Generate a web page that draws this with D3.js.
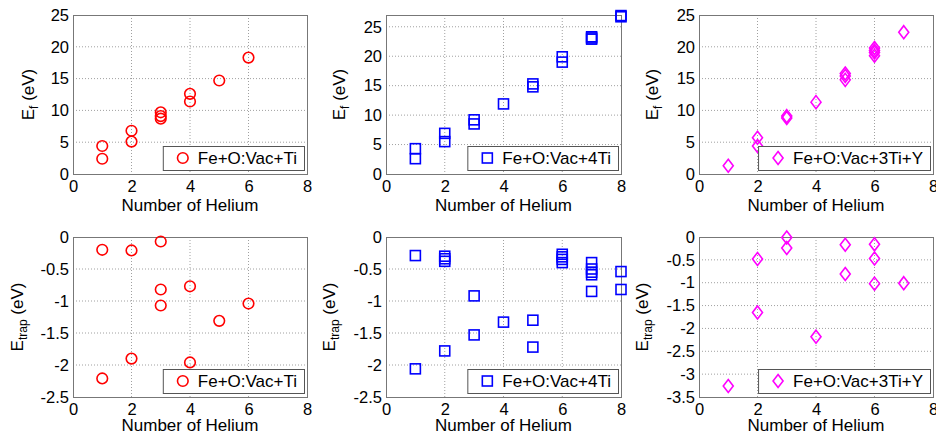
<!DOCTYPE html>
<html>
<head>
<meta charset="utf-8">
<script src="https://cdn.jsdelivr.net/npm/d3@7"></script>
<style>
  body { margin: 0; background: #fff; }
  text { font-family: "Liberation Sans", Arial, sans-serif; }
</style>
</head>
<body>
<div id="chart-area"></div>
<script>
// number of helium ticks
const xTicks = [0, 2, 4, 6, 8]

// formation energy, Fe+O:Vac+Ti
const efTiX = [1, 1, 2, 2, 3, 3, 3, 4, 4, 5, 6]
const efTiY = [4.4, 2.4, 6.8, 5.1, 9.7, 9.1, 8.7, 12.6, 11.4, 14.7, 18.3]

// formation energy, Fe+O:Vac+4Ti
const ef4TiX = [1, 1, 2, 2, 3, 3, 4, 5, 5, 6, 6, 7, 7, 7, 8, 8]
const ef4TiY = [4.3, 2.6, 6.9, 5.5, 9.2, 8.5, 11.9, 15.3, 14.8, 19.9, 19.0, 23.3, 23.1, 22.9, 26.9, 26.7]

// formation energy, Fe+O:Vac+3Ti+Y
const ef3TiYX = [1, 2, 2, 3, 3, 4, 5, 5, 5, 6, 6, 6, 6, 7]
const ef3TiYY = [1.3, 5.7, 4.4, 9.1, 8.8, 11.3, 15.8, 15.4, 14.8, 19.8, 19.4, 19.1, 18.6, 22.3]

// trapping energy, Fe+O:Vac+Ti
const etTiX = [1, 1, 2, 2, 3, 3, 3, 4, 4, 5, 6]
const etTiY = [-0.2, -2.21, -0.21, -1.9, -0.07, -0.82, -1.07, -0.77, -1.96, -1.31, -1.04]

// trapping energy, Fe+O:Vac+4Ti
const et4TiX = [1, 1, 2, 2, 2, 2, 3, 3, 4, 5, 5, 6, 6, 6, 6, 7, 7, 7, 7, 7, 8, 8]
const et4TiY = [-0.29, -2.06, -0.3, -0.34, -0.38, -1.78, -0.92, -1.53, -1.33, -1.3, -1.72,
  -0.27, -0.31, -0.35, -0.4, -0.4, -0.5, -0.55, -0.59, -0.85, -0.54, -0.82]

// trapping energy, Fe+O:Vac+3Ti+Y
const et3TiYX = [1, 2, 2, 3, 3, 4, 5, 5, 6, 6, 6, 7]
const et3TiYY = [-3.26, -0.48, -1.65, -0.01, -0.24, -2.18, -0.17, -0.81, -0.16, -0.47, -1.02, -1.01]

const efTicks = [0, 5, 10, 15, 20, 25]
const etTicks = [0, -0.5, -1, -1.5, -2, -2.5]
const et3Ticks = [0, -0.5, -1, -1.5, -2, -2.5, -3, -3.5]

const panels = [
  { xs: efTiX, ys: efTiY, name: "Fe+O:Vac+Ti", marker: "circle", color: "#ff0000",
    box: [73, 307, 15, 174], yDomain: [0, 25], yTicks: efTicks, sub: "f", labelX: 34, xlabY: 37 },
  { xs: ef4TiX, ys: ef4TiY, name: "Fe+O:Vac+4Ti", marker: "square", color: "#0000ff",
    box: [386, 621, 15, 174], yDomain: [0, 27], yTicks: efTicks, sub: "f", labelX: 345, xlabY: 37 },
  { xs: ef3TiYX, ys: ef3TiYY, name: "Fe+O:Vac+3Ti+Y", marker: "diamond", color: "#ff00ff",
    box: [699, 933, 15, 174], yDomain: [0, 25], yTicks: efTicks, sub: "f", labelX: 658, xlabY: 37 },
  { xs: etTiX, ys: etTiY, name: "Fe+O:Vac+Ti", marker: "circle", color: "#ff0000",
    box: [73, 307, 237, 397], yDomain: [-2.5, 0], yTicks: etTicks, sub: "trap", labelX: 23, xlabY: 34 },
  { xs: et4TiX, ys: et4TiY, name: "Fe+O:Vac+4Ti", marker: "square", color: "#0000ff",
    box: [386, 621, 237, 397], yDomain: [-2.5, 0], yTicks: etTicks, sub: "trap", labelX: 335, xlabY: 34 },
  { xs: et3TiYX, ys: et3TiYY, name: "Fe+O:Vac+3Ti+Y", marker: "diamond", color: "#ff00ff",
    box: [699, 933, 237, 397], yDomain: [-3.5, 0], yTicks: et3Ticks, sub: "trap", labelX: 648, xlabY: 34 }
]

const svg = d3.select("#chart-area").append("svg")
  .attr("width", 936)
  .attr("height", 436)

const drawMarker = (sel, type, color) => {
  if (type === "circle") {
    sel.append("circle").attr("r", 5.3)
  } else if (type === "square") {
    sel.append("rect").attr("x", -5).attr("y", -5).attr("width", 10).attr("height", 10)
  } else {
    sel.append("path").attr("d", "M0,-6.5L5,0L0,6.5L-5,0Z")
  }
  sel.selectAll("circle,rect,path")
    .attr("fill", "none")
    .attr("stroke", color)
    .attr("stroke-width", 1.6)
}

panels.forEach(p => {
  const [x0, x1, y0, y1] = p.box
  const x = d3.scaleLinear().domain([0, 8]).range([x0, x1])
  const y = d3.scaleLinear().domain(p.yDomain).range([y1, y0])
  const g = svg.append("g")

  // grid
  g.append("g").selectAll("line.gx")
    .data(xTicks.slice(1, -1))
    .enter().append("line")
      .attr("x1", d => x(d)).attr("x2", d => x(d))
      .attr("y1", y0).attr("y2", y1)
      .attr("stroke", "#a0a0a0").attr("stroke-dasharray", "1,2")
  g.append("g").selectAll("line.gy")
    .data(p.yTicks.filter(t => t !== p.yDomain[0] && t !== p.yDomain[1]))
    .enter().append("line")
      .attr("x1", x0).attr("x2", x1)
      .attr("y1", d => y(d)).attr("y2", d => y(d))
      .attr("stroke", "#a0a0a0").attr("stroke-dasharray", "1,2")

  // axes
  const xAxisCall = d3.axisBottom(x).tickValues(xTicks).tickSize(0).tickPadding(6)
  g.append("g")
    .attr("transform", `translate(0, ${y1})`)
    .call(xAxisCall)
    .call(a => a.select(".domain").remove())
    .selectAll("text")
      .attr("font-size", "16.5px")
      .attr("fill", "#000")

  const yAxisCall = d3.axisLeft(y).tickValues(p.yTicks).tickSize(0).tickPadding(4)
    .tickFormat(d => String(d))
  g.append("g")
    .attr("transform", `translate(${x0}, 0)`)
    .call(yAxisCall)
    .call(a => a.select(".domain").remove())
    .selectAll("text")
      .attr("font-size", "16.5px")
      .attr("fill", "#000")

  // frame
  g.append("rect")
    .attr("x", x0 + 0.5).attr("y", y0 + 0.5)
    .attr("width", x1 - x0).attr("height", y1 - y0)
    .attr("fill", "none").attr("stroke", "#777").attr("stroke-width", 1)

  // points
  p.xs.forEach((xv, i) => {
    const m = g.append("g").attr("transform", `translate(${x(xv)}, ${y(p.ys[i])})`)
    drawMarker(m, p.marker, p.color)
  })

  // labels
  g.append("text")
    .attr("x", (x0 + x1) / 2)
    .attr("y", y1 + p.xlabY)
    .attr("font-size", "17px")
    .attr("text-anchor", "middle")
    .text("Number of Helium")

  const yl = g.append("text")
    .attr("transform", `translate(${p.labelX}, ${(y0 + y1) / 2}) rotate(-90)`)
    .attr("font-size", "17px")
    .attr("text-anchor", "middle")
  yl.append("tspan").text("E")
  yl.append("tspan").attr("font-size", "12px").attr("dy", 4).text(p.sub)
  yl.append("tspan").attr("dy", -4).text(" (eV)")

  // legend
  const lg = g.append("g")
  const lt = lg.append("text")
    .attr("font-size", "17px")
    .text(p.name)
  const tw = lt.node().getComputedTextLength()
  const bw = tw + 42
  const bx = x1 - 3 - bw
  const by = y1 - 4 - 24
  lg.insert("rect", "text")
    .attr("x", bx + 0.5).attr("y", by + 0.5)
    .attr("width", bw).attr("height", 24)
    .attr("fill", "#fff").attr("stroke", "#555").attr("stroke-width", 1)
  lt.attr("x", bx + 35).attr("y", by + 18)
  const lm = lg.append("g").attr("transform", `translate(${bx + 20}, ${by + 12})`)
  drawMarker(lm, p.marker, p.color)
})
</script>
</body>
</html>
